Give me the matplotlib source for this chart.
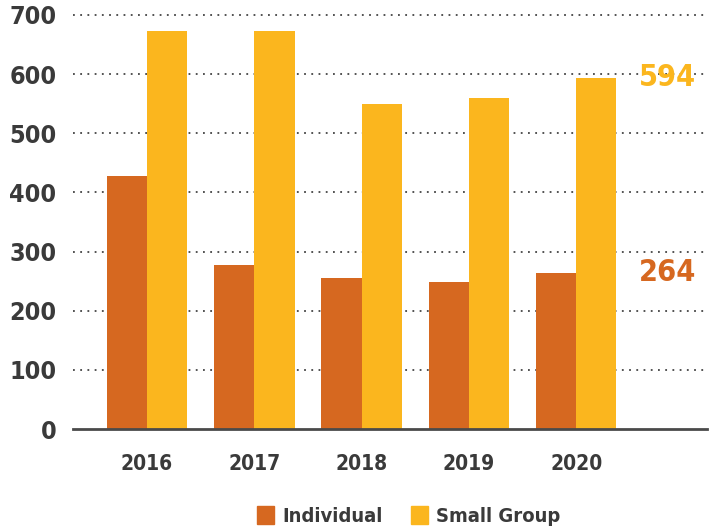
import matplotlib
matplotlib.use("Agg")
import matplotlib.pyplot as plt
import numpy as np
from matplotlib.patches import Patch

years = ["2016", "2017", "2018", "2019", "2020"]
individual = [428, 278, 256, 249, 264]
small_group = [672, 672, 550, 560, 594]
yticks = [0, 100, 200, 300, 400, 500, 600, 700]

c_ind = "#D66820"
c_sg = "#FBB61E"
c_txt = "#3a3a3a"

plt.rcParams['font.family'] = ['DejaVu Sans']
FS = dict(fontweight='bold', fontstretch='condensed')

fig = plt.figure(figsize=(7.11, 5.32), dpi=100)
ax = fig.add_axes([0.1027, 0.1936, 0.8917, 0.7784])

x = np.arange(len(years))
w = 0.375
ax.bar(x - w/2, individual, w, color=c_ind, zorder=3)
ax.bar(x + w/2, small_group, w, color=c_sg, zorder=3)

ax.set_ylim(0, 700)
ax.set_xlim(-0.69, 5.219)
ax.set_yticks(yticks)
ax.set_yticklabels([str(t) for t in yticks], fontsize=18, color=c_txt, **FS)
ax.set_xticks(x)
ax.set_xticklabels(years, fontsize=15, color=c_txt, **FS)
ax.tick_params(axis='both', length=0)
ax.tick_params(axis='x', pad=18)
ax.tick_params(axis='y', pad=12)

for t in yticks[1:]:
    ax.axhline(t, color="#444444", lw=1.3, ls=(0, (1, 3)), zorder=1, clip_on=False)
ax.axhline(0, color="#4a4a4a", lw=2, zorder=4, clip_on=False)
for s in ax.spines.values():
    s.set_visible(False)

ax.text(5.116, small_group[-1], str(small_group[-1]), color=c_sg, fontsize=22,
        ha='right', va='center', **FS)
ax.text(5.116, individual[-1], str(individual[-1]), color=c_ind, fontsize=22,
        ha='right', va='center', **FS)

handles = [Patch(color=c_ind, label="Individual"), Patch(color=c_sg, label="Small Group")]
leg = fig.legend(handles=handles, loc='center', bbox_to_anchor=(0.5745, 0.03), ncol=2,
                 frameon=False, handlelength=0.85, handleheight=1.0, handletextpad=0.4,
                 columnspacing=1.4, prop=dict(size=14.5, weight='bold', stretch='condensed', family='DejaVu Sans'))
for t in leg.get_texts():
    t.set_color(c_txt)

fig.savefig("out.png", dpi=100)
